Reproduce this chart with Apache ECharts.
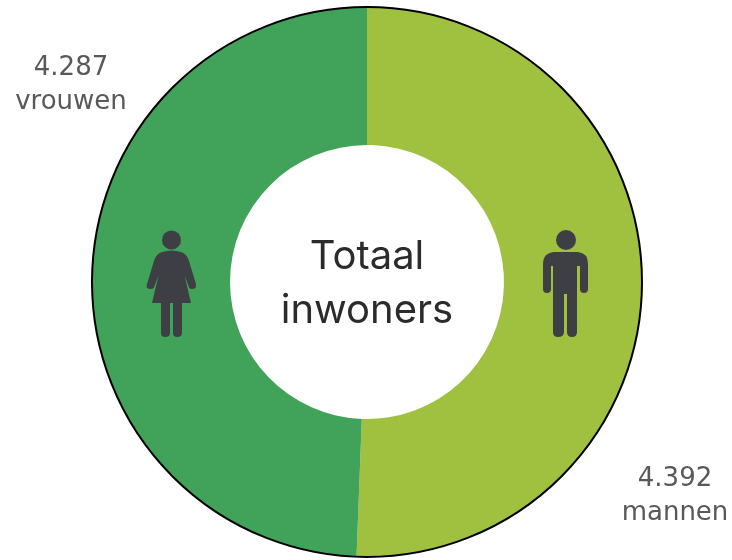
<!DOCTYPE html>
<html>
<head>
<meta charset="utf-8">
<style>html,body{margin:0;padding:0;background:#fff}#c{width:732px;height:560px}</style>
<script src="https://cdn.jsdelivr.net/npm/echarts@6/dist/echarts.min.js"></script>
</head>
<body>
<div id="c"></div>
<script>
var categories = ['mannen', 'vrouwen'];
var values = [4392, 4287];
var colours = ['#A0C040', '#41A259'];
var centerLines = ['Totaal', 'inwoners'];

var womanPath = 'M162 252 Q172 249 181 252 Q187 254 189 261 L196 284 Q197 289 192 289 Q189 289 188.5 286 L180.5 265 L182 265 L191 303 L182 303 L182 333 Q182 337 177 337 Q173 337 173 333 L173 303 L170 303 L170 333 Q170 337 165 337 Q161 337 161 333 L161 303 L152 303 L161 265 L162.5 265 L154.5 286 Q154 289 151 289 Q145 289 147 284 L154 261 Q156 254 162 252 Z';
var manPath = 'M554 252 L578 252 Q588 253 588 264 L588 289 Q588 293 584 293 Q580 293 580 289 L580 266 L577 266 L577 332 Q577 337 572 337 Q567 337 567 332 L567 294 L564 294 L564 332 Q564 337 558 337 Q553 337 553 332 L553 266 L551 266 L551 289 Q551 293 547 293 Q543 293 543 289 L543 264 Q543 253 554 252 Z';

echarts.graphic.registerShape('womanIcon', echarts.graphic.extendPath(womanPath, {}));
echarts.graphic.registerShape('manIcon', echarts.graphic.extendPath(manPath, {}));

var chart = echarts.init(document.getElementById('c'), null, {renderer: 'canvas'});
chart.setOption({
  animation: false,
  backgroundColor: '#fff',
  series: [{
    type: 'pie',
    center: [367, 282],
    radius: [137, 275],
    startAngle: 90,
    clockwise: true,
    silent: true,
    data: categories.map(function (c, i) {
      return {name: c, value: values[i], itemStyle: {color: colours[i]}};
    }),
    labelLine: {show: false},
    label: {
      show: true,
      color: '#595959',
      fontFamily: 'DejaVu Sans',
      fontSize: 26,
      lineHeight: 34,
      align: 'center',
      overflow: 'none',
      formatter: function (p) {
        return String(p.value).replace(/\B(?=(\d{3})+$)/g, '.') + '\n' + p.name;
      }
    },
    labelLayout: function (p) {
      return p.dataIndex === 0
        ? {x: 675, y: 496, align: 'center', verticalAlign: 'middle'}
        : {x: 71, y: 85, align: 'center', verticalAlign: 'middle'};
    }
  }],
  graphic: [
    {type: 'circle', z: 10, shape: {cx: 367, cy: 282, r: 275}, style: {fill: 'none', stroke: '#000', lineWidth: 2}, silent: true},
    {type: 'circle', z: 10, shape: {cx: 171.5, cy: 240, r: 9.5}, style: {fill: '#3E3F45'}, silent: true},
    {type: 'womanIcon', z: 10, style: {fill: '#3E3F45'}, silent: true},
    {type: 'circle', z: 10, shape: {cx: 566, cy: 240, r: 10}, style: {fill: '#3E3F45'}, silent: true},
    {type: 'manIcon', z: 10, style: {fill: '#3E3F45'}, silent: true},
    {type: 'text', z: 10, x: 367, y: 257, style: {text: centerLines[0], x: 0, y: 0, align: 'center', verticalAlign: 'middle', fill: '#2b2b2b', font: '400 40px Inter'}, silent: true},
    {type: 'text', z: 10, x: 367, y: 311, style: {text: centerLines[1], x: 0, y: 0, align: 'center', verticalAlign: 'middle', fill: '#2b2b2b', font: '400 40px Inter'}, silent: true}
  ]
});
</script>
</body>
</html>
